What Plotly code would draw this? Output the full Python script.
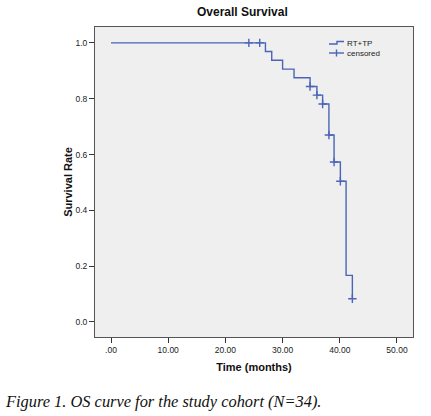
import plotly.graph_objects as go

# Kaplan-Meier step curve (time in months, survival rate)
step_times = [0, 27.0, 28.1, 30.0, 32.0, 34.8, 36.0, 37.0, 38.1, 39.0, 40.1, 41.1, 42.2]
step_surv = [1.0, 0.969, 0.938, 0.906, 0.875, 0.844, 0.813, 0.781, 0.670, 0.573, 0.504, 0.167, 0.083]

# censored observations
cens_times = [24.1, 26.0, 34.8, 36.0, 37.0, 38.1, 39.0, 40.1, 42.2]
cens_surv = [1.0, 1.0, 0.844, 0.813, 0.781, 0.670, 0.573, 0.504, 0.083]

x_tickvals = [0, 10, 20, 30, 40, 50]
x_ticktext = [".00", "10.00", "20.00", "30.00", "40.00", "50.00"]
y_tickvals = [0.0, 0.2, 0.4, 0.6, 0.8, 1.0]
legend_labels = ["RT+TP", "censored"]

W, H = 431, 416
ML, MR, MT, MB = 95, 18, 27, 79
PW, PH = W - ML - MR, H - MT - MB


def px(x):
    return (x - ML) / PW


def py(y):
    return 1 - (y - MT) / PH


line_col = "#4a64b8"

fig = go.Figure()
fig.add_trace(go.Scatter(
    x=step_times, y=step_surv, mode="lines", line_shape="hv",
    line=dict(color=line_col, width=1.4), name=legend_labels[0], showlegend=False))
fig.add_trace(go.Scatter(
    x=cens_times, y=cens_surv, mode="markers",
    marker=dict(symbol="cross-thin", size=6, line=dict(color=line_col, width=1.4)),
    name=legend_labels[1], showlegend=False))

axis_font = dict(family="Liberation Sans, Arial", size=8.5, color="#222")
legend_font = dict(family="Liberation Sans, Arial", size=8, color="#222")

shapes = [
    # RT+TP legend glyph (step)
    dict(type="path", xref="paper", yref="paper",
         path=f"M {px(329)} {py(44)} L {px(337)} {py(44)} L {px(337)} {py(41.5)} L {px(344)} {py(41.5)}",
         line=dict(color=line_col, width=1.4)),
    # censored legend glyph (line with tick)
    dict(type="line", xref="paper", yref="paper", x0=px(329), x1=px(344), y0=py(53), y1=py(53),
         line=dict(color=line_col, width=1.4)),
    dict(type="line", xref="paper", yref="paper", x0=px(336.5), x1=px(336.5), y0=py(49.5), y1=py(56.5),
         line=dict(color=line_col, width=1.4)),
]

annotations = [
    dict(text="<b>Overall Survival</b>", x=px(242), y=py(12), xref="paper", yref="paper",
         xanchor="center", yanchor="middle", showarrow=False,
         font=dict(family="Liberation Sans, Arial", size=12, color="#111")),
    dict(text="<i>Figure 1. OS curve for the study cohort (N=34).</i>", x=px(3), y=py(401),
         xref="paper", yref="paper", xanchor="left", yanchor="middle", showarrow=False,
         font=dict(family="Liberation Serif, Times New Roman", size=16.4, color="#111")),
    dict(text=legend_labels[0], x=px(345), y=py(43), xref="paper", yref="paper",
         xanchor="left", yanchor="middle", showarrow=False, font=legend_font),
    dict(text=legend_labels[1], x=px(345), y=py(53.5), xref="paper", yref="paper",
         xanchor="left", yanchor="middle", showarrow=False, font=legend_font),
]

fig.update_layout(
    width=W, height=H,
    margin=dict(l=ML, r=MR, t=MT, b=MB, autoexpand=False),
    paper_bgcolor="white", plot_bgcolor="#efefef",
    showlegend=False,
    xaxis=dict(range=[-2.8, 52.8], tickvals=x_tickvals, ticktext=x_ticktext,
               showgrid=False, zeroline=False, showline=True, linecolor="#555", linewidth=1,
               mirror=True, ticks="outside", ticklen=5, tickcolor="#333",
               tickfont=axis_font,
               title=dict(text="<b>Time (months)</b>", font=dict(family="Liberation Sans, Arial", size=11, color="#111"), standoff=9)),
    yaxis=dict(range=[-0.054, 1.057], tickvals=y_tickvals, tickformat=".1f",
               showgrid=False, zeroline=False, showline=True, linecolor="#555", linewidth=1,
               mirror=True, ticks="outside", ticklen=5, tickcolor="#333",
               tickfont=axis_font,
               title=dict(text="<b>Survival Rate</b>", font=dict(family="Liberation Sans, Arial", size=11, color="#111"), standoff=0)),
    shapes=shapes,
    annotations=annotations,
)
fig.write_html("out.html", config={"displayModeBar": False},
               post_script="document.body.style.margin='0';")
